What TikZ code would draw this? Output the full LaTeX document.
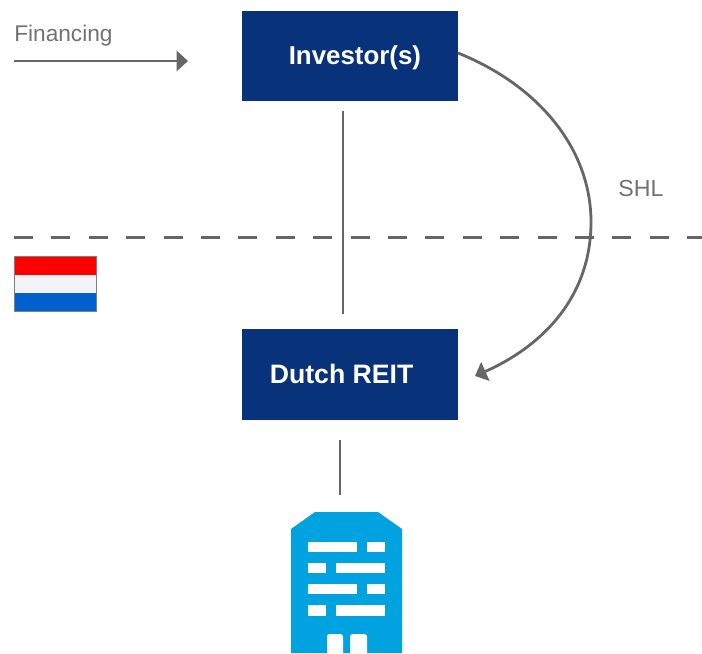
\documentclass[tikz,border=0pt]{standalone}
\usepackage{fontspec}
\setmainfont{Liberation Sans}
\usetikzlibrary{arrows.meta}
\definecolor{navy}{HTML}{08337A}
\definecolor{linegray}{HTML}{666666}
\definecolor{bldg}{HTML}{00A3E0}
\definecolor{flagred}{HTML}{FF0000}
\definecolor{flagwhite}{HTML}{F2F2F7}
\definecolor{flagblue}{HTML}{0061CC}
\tikzset{
  x=0.75pt,y=-0.75pt,
  boxnode/.style={fill=navy,draw=none,minimum width=162pt,minimum height=67.75pt,inner sep=0pt,anchor=north west},
  boxtext/.style={text=white,font=\fontsize{19.4}{22}\selectfont\bfseries,inner sep=0pt,anchor=base west},
  lbl/.style={text=linegray!92!white,font=\fontsize{17}{20}\selectfont,inner sep=0pt,anchor=base west},
  conn/.style={draw=linegray,line width=2.1pt},
  tip/.style={-{Triangle[length=8.5pt,width=15pt]}},
  window/.style={fill=white,draw=none},
}
\begin{document}
\begin{tikzpicture}
\useasboundingbox (0,0) rectangle (702,653);
% boxes
\node[boxnode] (inv) at (242,10.5) {};
\node[boxnode,minimum height=68.25pt] (reit) at (242,329) {};
\node[boxtext] (invt) at (288.5,64) {Investor(s)};
\node[boxtext,font=\fontsize{20}{22}\selectfont\bfseries] (reitt) at (269.5,383) {Dutch REIT};
% labels
\node[lbl] (fin) at (14,41) {Financing};
\node[lbl,font=\fontsize{17.4}{20}\selectfont] (shl) at (618,196) {SHL};
% coordinates
\coordinate (finA) at (14,61);
\coordinate (finB) at (188,61);
\coordinate (upA) at (343,111);
\coordinate (upB) at (343,314);
\coordinate (lowA) at (340,440);
\coordinate (lowB) at (340,495);
\coordinate (dashA) at (14,237.5);
\coordinate (dashB) at (702,237.5);
\coordinate (curveA) at (458,53);
\coordinate (curveM) at (591,222);
\coordinate (curveB) at (475,376);
% connectors
\draw[conn,tip] (finA) -- (finB);
\draw[conn] (upA) -- (upB);
\draw[conn] (lowA) -- (lowB);
\draw[conn,dash pattern=on 14.25pt off 13.8pt] (dashA) -- (dashB);
\draw[conn,tip] (curveA) .. controls (540,86) and (591,150) .. (curveM)
   .. controls (591,295) and (545,345) .. (curveB);
% flag
\fill[flagred] (14,256) rectangle (96.5,274.5);
\fill[flagwhite] (14,274.5) rectangle (96.5,293);
\fill[flagblue] (14,293) rectangle (96.5,311);
\draw[gray,line width=0.7pt] (14,256) rectangle (96.5,311);
% building
\fill[bldg] (291,653) -- (291,529) -- (315,512) -- (378,512) -- (402,529) -- (402,653) -- cycle;
\foreach \y/\h in {542/10,584/10}{
  \fill[window] (308,\y) rectangle ++(49,\h);
  \fill[window] (367,\y) rectangle ++(18,\h);
}
\foreach \y/\h in {563/10,605/11}{
  \fill[window] (308,\y) rectangle ++(18,\h);
  \fill[window] (336,\y) rectangle ++(49,\h);
}
\fill[window,rounded corners=2pt] (327,660) -- (327,634) -- (343,634) -- (343,660) -- cycle;
\fill[window,rounded corners=2pt] (350,660) -- (350,634) -- (367,634) -- (367,660) -- cycle;
\end{tikzpicture}
\end{document}
